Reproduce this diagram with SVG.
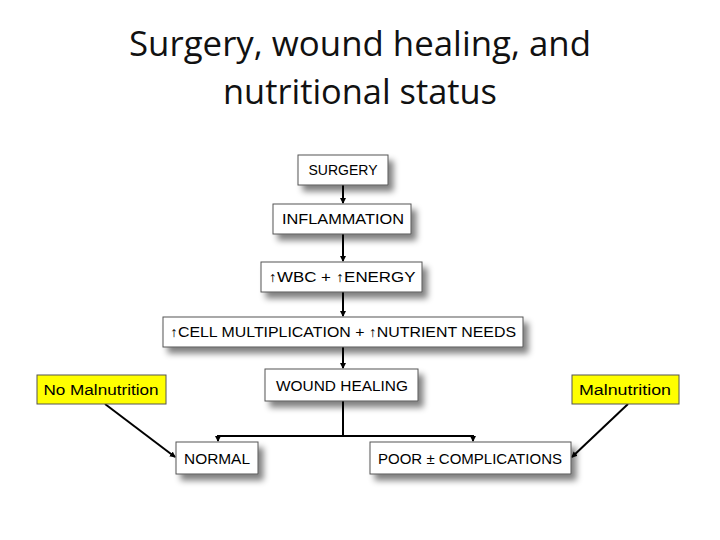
<svg xmlns="http://www.w3.org/2000/svg" width="720" height="540" viewBox="0 0 720 540">
<style>
.b{fill:#fff;stroke:#555;stroke-width:1;filter:url(#sh)}
.y{fill:#ffff00;stroke:#555;stroke-width:1}
.t{font-family:"Liberation Sans",Arial,sans-serif;font-size:14px;fill:#000;text-anchor:middle}
.h{font-family:"Open Sans","Liberation Sans",sans-serif;font-size:34px;fill:#111;text-anchor:middle}
.c{stroke:#000;stroke-width:2;fill:none}
</style>
<defs>
<filter id="sh" x="-20%" y="-30%" width="150%" height="200%">
<feGaussianBlur in="SourceAlpha" stdDeviation="3"/>
<feOffset dx="5" dy="6"/>
<feComponentTransfer><feFuncA type="linear" slope="0.5"/></feComponentTransfer>
<feMerge><feMergeNode/><feMergeNode in="SourceGraphic"/></feMerge>
</filter>
<marker id="a" markerWidth="6" markerHeight="6" refX="5" refY="3" orient="auto" markerUnits="userSpaceOnUse"><path d="M0,0L6,3L0,6z" fill="#000"/></marker>
</defs>
<text class="h" x="360" y="56" textLength="462" lengthAdjust="spacingAndGlyphs">Surgery, wound healing, and</text>
<text class="h" x="360" y="104" textLength="274" lengthAdjust="spacingAndGlyphs">nutritional status</text>
<g id="connectors">
<path class="c" d="M343 185V203" marker-end="url(#a)"/>
<path class="c" d="M343 234V261" marker-end="url(#a)"/>
<path class="c" d="M343 292V316" marker-end="url(#a)"/>
<path class="c" d="M343 347V368" marker-end="url(#a)"/>
<path class="c" d="M343 401V436"/>
<path class="c" d="M218 441V436H473V441" />
<path class="c" d="M218 436V441" marker-end="url(#a)"/>
<path class="c" d="M473 436V441" marker-end="url(#a)"/>
<path class="c" d="M105 404L175 457" marker-end="url(#a)"/>
<path class="c" d="M628 404L572 457" marker-end="url(#a)"/>
</g>
<g id="surgery"><rect class="b" x="298" y="155" width="90" height="30"/><text class="t" x="343" y="175">SURGERY</text></g>
<g id="inflammation"><rect class="b" x="273" y="204" width="138" height="30"/><text class="t" x="343" y="224" textLength="122" lengthAdjust="spacingAndGlyphs">INFLAMMATION</text></g>
<g id="wbc"><rect class="b" x="261" y="262" width="161" height="30"/><text class="t" x="342" y="282" textLength="147" lengthAdjust="spacingAndGlyphs">↑WBC + ↑ENERGY</text></g>
<g id="cell"><rect class="b" x="163" y="317" width="360" height="30"/><text class="t" x="343" y="337" textLength="346" lengthAdjust="spacingAndGlyphs">↑CELL MULTIPLICATION + ↑NUTRIENT NEEDS</text></g>
<g id="wound"><rect class="b" x="265" y="369" width="153" height="32"/><text class="t" x="342" y="391" textLength="132" lengthAdjust="spacingAndGlyphs">WOUND HEALING</text></g>
<g id="nomal"><rect class="y" x="37" y="375" width="129" height="29"/><text class="t" x="101" y="395" textLength="115" lengthAdjust="spacingAndGlyphs">No Malnutrition</text></g>
<g id="mal"><rect class="y" x="572" y="375" width="107" height="29"/><text class="t" x="625" y="395" textLength="92" lengthAdjust="spacingAndGlyphs">Malnutrition</text></g>
<g id="normal"><rect class="b" x="176" y="442" width="82" height="32"/><text class="t" x="217" y="464" textLength="66" lengthAdjust="spacingAndGlyphs">NORMAL</text></g>
<g id="poor"><rect class="b" x="370" y="442" width="201" height="32"/><text class="t" x="470" y="464" textLength="184" lengthAdjust="spacingAndGlyphs">POOR ± COMPLICATIONS</text></g>
</svg>
